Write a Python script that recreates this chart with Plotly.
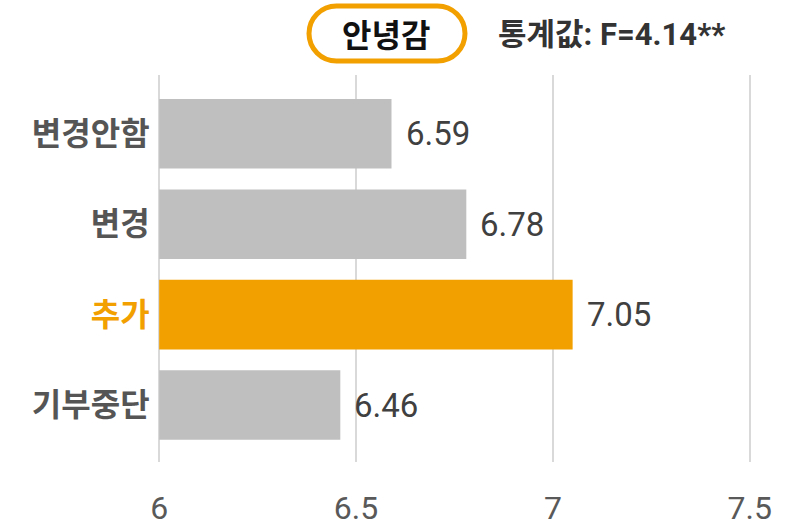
import plotly.graph_objects as go

categories = ["변경안함", "변경", "추가", "기부중단"]
values = [6.59, 6.78, 7.05, 6.46]
value_labels = ["6.59", "6.78", "7.05", "6.46"]
highlight = "추가"
tick_vals = [6, 6.5, 7, 7.5]
tick_text = ["6", "6.5", "7", "7.5"]
title_text = "안녕감"
stat_text = "통계값: F=4.14**"

GRAY = "#BFBFBF"
ORANGE = "#F2A000"
colors = [ORANGE if c == highlight else GRAY for c in categories]

# plot area in pixels
PL, PR, PT, PB = 158, 751, 75, 462
PW, PH = PR - PL, PB - PT


def px(x):
    return (x - PL) / PW


def py(y):
    return (PB - y) / PH


fig = go.Figure()
fig.add_trace(go.Bar(
    y=categories, x=[v - 6 for v in values], base=6,
    orientation="h",
    marker=dict(color=colors, line=dict(width=0)),
    width=0.77,
    hoverinfo="skip",
))

for c, v, t in zip(categories, values, value_labels):
    fig.add_annotation(
        x=v, y=c, xref="x", yref="y", text=t, showarrow=False,
        xanchor="left", yanchor="middle", xshift=12,
        font=dict(family="Roboto", size=33, color="#404040"),
    )

ticktext_y = [
    f"<span style='color:{ORANGE}'>{c}</span>" if c == highlight else c
    for c in categories
]

fig.update_layout(
    width=786, height=526,
    margin=dict(l=PL, r=786 - PR, t=PT, b=526 - PB),
    paper_bgcolor="white", plot_bgcolor="white",
    showlegend=False,
    xaxis=dict(
        range=[5.997, 7.503], tickvals=tick_vals, ticktext=tick_text,
        showgrid=True, gridcolor="#D9D9D9", gridwidth=2,
        zeroline=False, showline=False, automargin=False,
        ticks="outside", ticklen=0, ticklabelstandoff=18,
        tickfont=dict(family="Roboto", size=32, color="#595959"),
    ),
    yaxis=dict(
        categoryorder="array", categoryarray=categories,
        tickvals=categories, ticktext=ticktext_y,
        range=[3.63, -0.65], automargin=False,
        showgrid=False, zeroline=False, showline=False,
        ticks="outside", ticklen=0, ticklabelstandoff=1,
        tickfont=dict(family="Noto Sans CJK KR", size=32, color="#555555", weight="bold"),
    ),
)

# rounded pill around the title
x0, x1, y0, y1 = 309, 465, 6, 61
r = (y1 - y0) / 2
k = 0.5523 * r
path = (
    f"M {px(x0 + r)},{py(y0)} L {px(x1 - r)},{py(y0)} "
    f"C {px(x1 - r + k)},{py(y0)} {px(x1)},{py(y0 + r - k)} {px(x1)},{py(y0 + r)} "
    f"C {px(x1)},{py(y0 + r + k)} {px(x1 - r + k)},{py(y1)} {px(x1 - r)},{py(y1)} "
    f"L {px(x0 + r)},{py(y1)} "
    f"C {px(x0 + r - k)},{py(y1)} {px(x0)},{py(y0 + r + k)} {px(x0)},{py(y0 + r)} "
    f"C {px(x0)},{py(y0 + r - k)} {px(x0 + r - k)},{py(y0)} {px(x0 + r)},{py(y0)} Z"
)
fig.add_shape(
    type="path", xref="paper", yref="paper", path=path,
    line=dict(color=ORANGE, width=5), fillcolor="white",
)
fig.add_annotation(
    xref="paper", yref="paper",
    x=px(386), y=py(33),
    text=f"<b>{title_text}</b>", showarrow=False,
    font=dict(family="Noto Sans CJK KR", size=32, color="#111111"),
    xanchor="center", yanchor="middle",
)
fig.add_annotation(
    xref="paper", yref="paper",
    x=px(496), y=py(35),
    text=f"<b>{stat_text}</b>", showarrow=False,
    font=dict(family="Roboto, Noto Sans CJK KR", size=31, color="#333333"),
    xanchor="left", yanchor="middle",
)

fig.write_html("out.html")
